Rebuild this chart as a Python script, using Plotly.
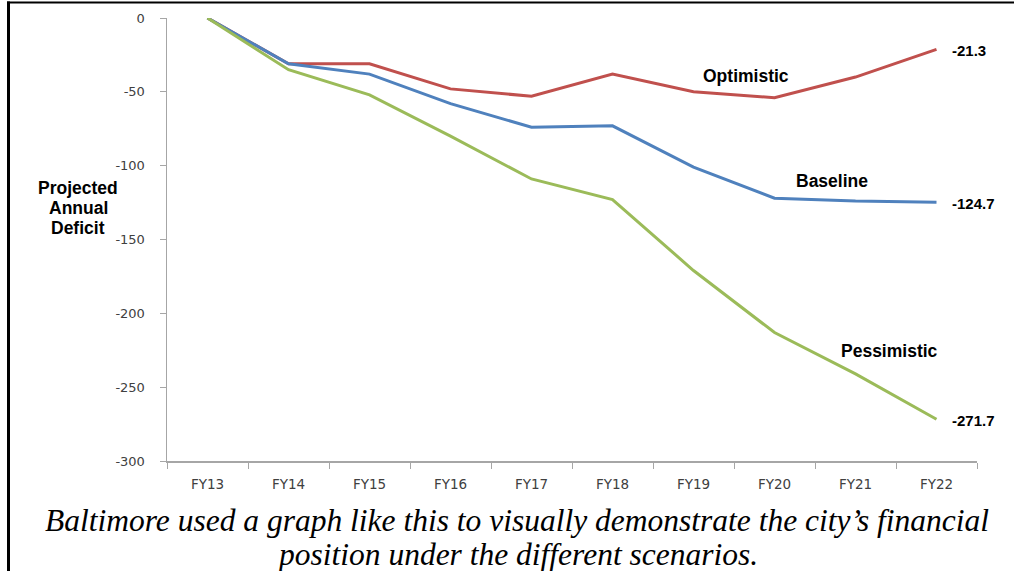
import plotly.graph_objects as go

categories = ["FY13", "FY14", "FY15", "FY16", "FY17", "FY18", "FY19", "FY20", "FY21", "FY22"]
optimistic = [0, -31, -31, -48, -53, -38, -50, -54, -40, -21.3]
baseline = [0, -31, -38, -58, -74, -73, -101, -122, -124, -124.7]
pessimistic = [0, -35, -52, -80, -109, -123, -171, -213, -241, -271.7]
y_ticks = [0, -50, -100, -150, -200, -250, -300]
y_tick_text = ["0", "-50", "-100", "-150", "-200", "-250", "-300"]
title_lines = ["Projected", "Annual", "Deficit"]
caption_lines = ["Baltimore used a graph like this to visually demonstrate the city\u2019s financial",
                 "position under the different scenarios."]

RED = "#C0504D"
BLUE = "#4F81BD"
GREEN = "#9BBB59"

L, R, T, B = 167, 37, 18, 110
W, H = 1014, 571
PW, PH = W - L - R, H - T - B


def px(x):
    return (x - L) / PW


def py(y):
    return (H - B - y) / PH


fig = go.Figure()
for name, vals, col in [("Optimistic", optimistic, RED), ("Baseline", baseline, BLUE), ("Pessimistic", pessimistic, GREEN)]:
    fig.add_trace(go.Scatter(x=categories, y=vals, mode="lines", name=name,
                             line=dict(color=col, width=3), showlegend=False, hoverinfo="skip"))

lab_font = dict(family="Liberation Sans, Arial", size=17.5, color="black")
fig.add_annotation(x="FY19", y=optimistic[6], text="<b>Optimistic</b>", showarrow=False,
                   xshift=52, yshift=16, font=lab_font, xanchor="center", yanchor="middle")
fig.add_annotation(x="FY20", y=baseline[7], text="<b>Baseline</b>", showarrow=False,
                   xshift=57, yshift=17, font=lab_font, xanchor="center", yanchor="middle")
fig.add_annotation(x="FY21", y=pessimistic[8], text="<b>Pessimistic</b>", showarrow=False,
                   xshift=34, yshift=23, font=lab_font, xanchor="center", yanchor="middle")

end_font = dict(family="Liberation Sans, Arial", size=15, color="black")
for vals in (optimistic, baseline, pessimistic):
    fig.add_annotation(x="FY22", y=vals[-1], text="<b>%s</b>" % vals[-1], showarrow=False,
                       xshift=13, yshift=-1, xanchor="left", yanchor="middle", font=end_font)

for i, line in enumerate(title_lines):
    fig.add_annotation(xref="paper", yref="paper", x=px(78), y=py(188 + 20 * i),
                       text="<b>%s</b>" % line, showarrow=False,
                       xanchor="center", yanchor="middle",
                       font=dict(family="Liberation Sans, Arial", size=17.5, color="black"))

for i, line in enumerate(caption_lines):
    fig.add_annotation(xref="paper", yref="paper", x=px(517), y=py(520 + 34 * i),
                       text=line, showarrow=False, xanchor="center", yanchor="middle",
                       font=dict(family="Liberation Serif, Times New Roman, serif", size=31.5,
                                 color="black", style="italic"))

fig.add_shape(type="line", xref="paper", yref="paper", x0=px(8.5), x1=px(8.5),
              y0=py(1.5), y1=py(580), line=dict(color="black", width=3))
fig.add_shape(type="line", xref="paper", yref="paper", x0=px(7), x1=px(1020),
              y0=py(2.5), y1=py(2.5), line=dict(color="black", width=2))

ytick_font = dict(family="DejaVu Sans, Verdana", size=13, color="#404040")
xtick_font = dict(family="DejaVu Sans, Verdana", size=13.5, color="#404040")
fig.update_layout(
    width=W, height=H,
    margin=dict(l=L, r=R, t=T, b=B),
    paper_bgcolor="white", plot_bgcolor="white",
    hovermode=False,
    xaxis=dict(type="category", categoryorder="array", categoryarray=categories,
               range=[-0.5, 9.5], showline=True, linecolor="#A6A6A6", linewidth=1.5,
               ticks="outside", ticklen=6, tickcolor="#A6A6A6", tickson="boundaries",
               showgrid=False, zeroline=False, tickfont=xtick_font, ticklabelstandoff=10),
    yaxis=dict(range=[-300, 0], tickvals=y_ticks, ticktext=y_tick_text, showline=True,
               linecolor="#A6A6A6", linewidth=1.5,
               ticks="outside", ticklen=6, tickcolor="#A6A6A6", showgrid=False, zeroline=False,
               tickfont=ytick_font, ticklabelstandoff=12),
)

fig.write_html("out.html", config={"displayModeBar": False, "staticPlot": True},
               post_script="document.body.style.margin='0';document.body.style.overflow='hidden';")
